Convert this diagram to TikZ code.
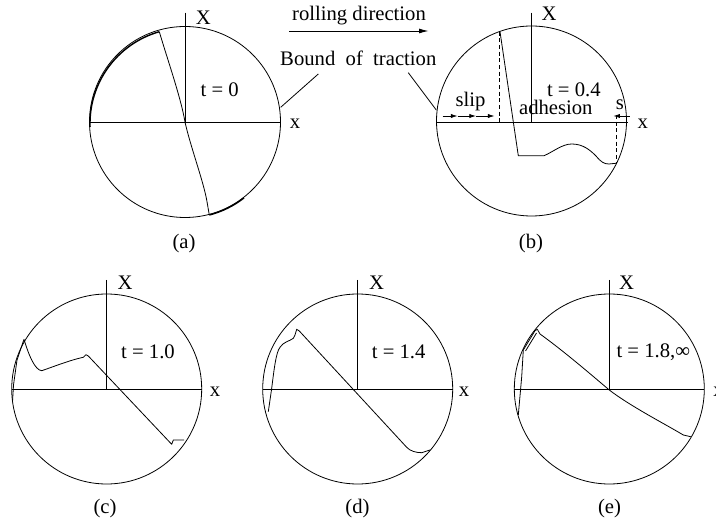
\documentclass[tikz,border=0pt]{standalone}
\usepackage{fontspec}
\setmainfont{Liberation Serif}
\usetikzlibrary{arrows.meta}
\begin{document}
\begin{tikzpicture}[x=0.75pt,y=-0.75pt,
  lbl/.style={inner sep=0pt, anchor=base, font=\fontsize{15.5}{18}\selectfont},
  ln/.style={line width=0.6pt, line join=round},
  heavy/.style={line width=1.1pt},
  dsh/.style={line width=0.6pt, dash pattern=on 3pt off 2pt},
  tip/.style={-{Latex[length=5pt,width=3.2pt]}, line width=0.6pt}]
\useasboundingbox (0,0) rectangle (716,523);

% ---------- centres ----------
\coordinate (ca) at (185,122);
\coordinate (cb) at (531.5,121);
\coordinate (cc) at (106.7,389);
\coordinate (cd) at (357.7,389);
\coordinate (ce) at (609.3,389);

% ---------- header ----------
\node[lbl] (roll) at (359,20.7) {rolling direction};
\coordinate (rs) at (289.3,31);
\coordinate (re) at (428.5,31);
\draw[-{Latex[length=7pt,width=3.6pt]}, line width=0.6pt] (rs) -- (re);
\node[lbl] (bound) at (358.3,66) {Bound\ \ of\ \ traction};
\coordinate (bl1) at (318.3,74);
\coordinate (bl2) at (280.7,107.3);
\coordinate (br1) at (408.3,72.7);
\coordinate (br2) at (436.3,110);
\draw[ln] (bl1) -- (bl2);
\draw[ln] (br1) -- (br2);

% ---------- (a) ----------
\draw[ln] (ca) circle[radius=95.5];
\draw[heavy] (159.3,31.7) arc[start angle=-105.9, end angle=-182, radius=95.5];
\draw[heavy] (209.3,215) arc[start angle=75.4, end angle=52, radius=95.5];
\draw[ln] (185,12.7) -- (185,122);
\draw[ln] (89.5,122) -- (280.5,122);
\draw[ln] (159.3,31.7) .. controls (167,58) and (181,98) .. (185,122)
          .. controls (190,145) and (203,180) .. (206.7,200) -- (209.3,215);
\node[lbl] (Xa) at (203.3,25) {X};
\node[lbl] (xa) at (295,128.3) {x};
\node[lbl] (ta) at (219.7,96.7) {t = 0};
\node[lbl] (capa) at (184,248.5) {(a)};

% ---------- (b) ----------
\draw[ln] (cb) circle[radius=95];
\draw[ln] (531.7,12.7) -- (531.7,122.3);
\draw[ln] (436.5,122.3) -- (628.3,122.3);
\draw[dsh] (499.3,31.7) -- (499.3,122.3);
\draw[dsh] (616,115) -- (616,163.3);
\draw[ln] (500,31.7) -- (518.3,155.7) -- (544,155.7)
   .. controls (553,152) and (562,144) .. (571.7,144)
   .. controls (583,144) and (590,150) .. (596,156)
   .. controls (601,162) and (604,164) .. (609,164) -- (616,163.3);
\draw[tip] (442.7,116) -- (457.5,116);
\draw[tip] (457.5,116) -- (476,116);
\draw[tip] (476,116) -- (494.5,116);
\draw[tip] (629.5,116) -- (613.3,116);
\node[lbl] (Xb) at (549,20.7) {X};
\node[lbl] (xb) at (642.7,128.3) {x};
\node[lbl] (tb) at (573.8,96.7) {t = 0.4};
\node[lbl] (adh) at (555.8,115) {adhesion};
\node[lbl] (slip) at (470.5,106.7) {slip};
\node[lbl] (sb) at (620,110) {s};
\node[lbl] (capb) at (531,248.5) {(b)};

% ---------- (c) ----------
\draw[ln] (cc) circle[radius=95];
\draw[ln] (106.2,280) -- (106.2,389.3);
\draw[ln] (11.7,389.3) -- (201.7,389.3);
\draw[ln] (12.5,402) -- (13.5,385) -- (17,360) -- (24,339.3)
   .. controls (29,356) and (35,370) .. (41.7,370.7)
   .. controls (50,368) and (70,360) .. (83.3,357.3)
   -- (86,354.7) -- (88.3,356) -- (171.7,444.3) -- (173.3,440) -- (184,440);
\node[lbl] (Xc) at (125,289.3) {X};
\node[lbl] (xc) at (215,396.7) {x};
\node[lbl] (tc) at (148,358.3) {t = 1.0};
\node[lbl] (capc) at (105,513) {(c)};

% ---------- (d) ----------
\draw[ln] (cd) circle[radius=95];
\draw[ln] (357.7,280) -- (357.7,389.3);
\draw[ln] (262.7,389.3) -- (452.7,389.3);
\draw[ln] (268.3,411.7) -- (271.7,388.3)
   .. controls (274,370) and (276,352) .. (280,347.3)
   .. controls (283,342) and (290,341) .. (293.3,338.3)
   -- (295,335) -- (296.7,329.3) -- (299.3,331) -- (406.7,447.3)
   .. controls (410,451) and (416,452.7) .. (421.7,452.7) -- (430,450);
\node[lbl] (Xd) at (376.7,289.3) {X};
\node[lbl] (xd) at (464,396.7) {x};
\node[lbl] (td) at (398.7,358.3) {t = 1.4};
\node[lbl] (capd) at (357.5,513) {(d)};

% ---------- (e) ----------
\draw[ln] (ce) circle[radius=95];
\draw[ln] (609.3,280) -- (609.3,389.3);
\draw[ln] (514.3,389.3) -- (704,389.3);
\draw[ln] (518.3,415) -- (521.7,376.7) -- (523.3,350) -- (535,330.7)
   -- (537.3,329.3) -- (540,334)
   .. controls (565,352) and (595,378) .. (609.3,390)
   .. controls (630,406) and (665,424) .. (683.3,435) -- (690.7,436.7);
\draw[ln] (525.5,351) -- (536.5,333);
\node[lbl] (Xe) at (626.7,289.3) {X};
\node[lbl, anchor=base west] (xe) at (713,396.7) {x};
\node[lbl] (te) at (653.3,357) {t = 1.8,∞};
\node[lbl] (cape) at (609.5,513) {(e)};
\end{tikzpicture}
\end{document}
